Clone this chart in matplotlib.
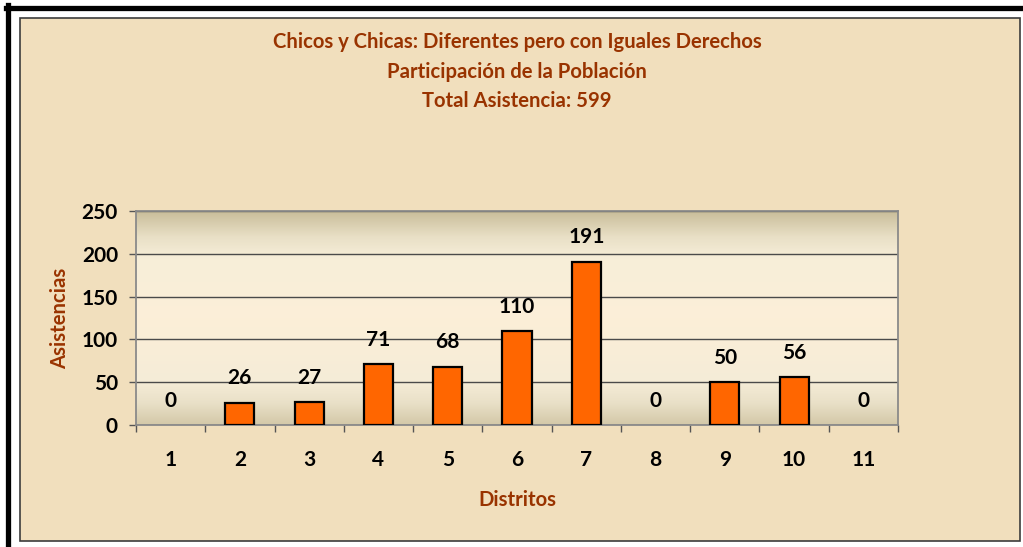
import numpy as np
import matplotlib
matplotlib.use('Agg')
import matplotlib.pyplot as plt
from matplotlib.colors import LinearSegmentedColormap
from matplotlib.patches import Rectangle
from matplotlib.lines import Line2D

# data
districts = ['1', '2', '3', '4', '5', '6', '7', '8', '9', '10', '11']
attendance = [0, 26, 27, 71, 68, 110, 191, 0, 50, 56, 0]
title_lines = ['Chicos y Chicas: Diferentes pero con Iguales Derechos',
               'Participación de la Población',
               'Total Asistencia: 599']

plt.rcParams['font.family'] = ['Lato', 'DejaVu Sans']
brown = '#993300'

W, H = 1023, 547
fig = plt.figure(figsize=(W / 100, H / 100), dpi=100, facecolor='white')

# outer black frame + parchment chart area (kept behind the axes)
fig.add_artist(Rectangle((20 / W, 1 - 541 / H), 1000 / W, 523 / H,
                         facecolor='#f1dfbd', edgecolor='#3c3c3c', lw=1.2, zorder=-5))
fig.add_artist(Line2D([6 / W, 1], [1 - 7.5 / H] * 2, color='black', lw=3.8, zorder=-4))
fig.add_artist(Line2D([8 / W] * 2, [0, 1 - 5 / H], color='black', lw=3.8, zorder=-4))

# titles
for i, line in enumerate(title_lines):
    fig.text(517 / W, 1 - (42 + 29.5 * i) / H, line, ha='center', va='center',
             color=brown, fontsize=14.6, fontweight='bold')

ax = fig.add_axes([136 / W, 1 - 425 / H, 762 / W, 214 / H])
x = np.arange(len(districts))
ax.set_xlim(-0.5, len(districts) - 0.5)
ax.set_ylim(0, 250)

# plot-area gradient (bottom -> top)
grad = LinearSegmentedColormap.from_list('pa', [
    (0.0, '#d3c8a8'), (0.1, '#e9e0c7'), (0.2, '#f5ecd7'), (0.5, '#fcefd8'),
    (0.78, '#f7eed9'), (0.88, '#e9e0c6'), (1.0, '#c9bd9a')])
ax.imshow(np.linspace(0, 1, 256).reshape(-1, 1), cmap=grad, aspect='auto',
          extent=[-0.5, len(districts) - 0.5, 0, 250], origin='lower', zorder=0)

edge_w = [1.6 if v > 0 else 0 for v in attendance]
ax.bar(x, attendance, width=0.42, color='#ff6600', edgecolor='black', lw=edge_w, zorder=3)
for xi, v in zip(x, attendance):
    ax.annotate(str(v), (xi, v), xytext=(0, 17.5), textcoords='offset points',
                ha='center', va='center', fontsize=15, fontweight='bold')

ax.set_yticks([0, 50, 100, 150, 200, 250])
ax.yaxis.grid(True, color='#4a4a4a', lw=1.0, zorder=1)
ax.set_axisbelow(True)
ax.set_xticks(x)
ax.set_xticklabels(districts)
ax.set_xticks(np.arange(-0.5, len(districts)), minor=True)
ax.tick_params(axis='x', which='major', length=0, pad=18, labelsize=15)
ax.tick_params(axis='x', which='minor', length=5, width=1, color='#555555', direction='out')
ax.tick_params(axis='y', length=5, width=1, color='#555555', pad=8, labelsize=15)
for lab in ax.get_xticklabels() + ax.get_yticklabels():
    lab.set_fontweight('bold')
for s in ax.spines.values():
    s.set_color('#8a8a8a')
    s.set_linewidth(1.3)

fig.text(517 / W, 1 - 500 / H, 'Distritos', ha='center', va='center',
         color=brown, fontsize=14.6, fontweight='bold')
fig.text(60 / W, 1 - 318 / H, 'Asistencias', ha='center', va='center', rotation=90,
         color=brown, fontsize=14.6, fontweight='bold')

fig.savefig('out.png', dpi=100, facecolor='white')
